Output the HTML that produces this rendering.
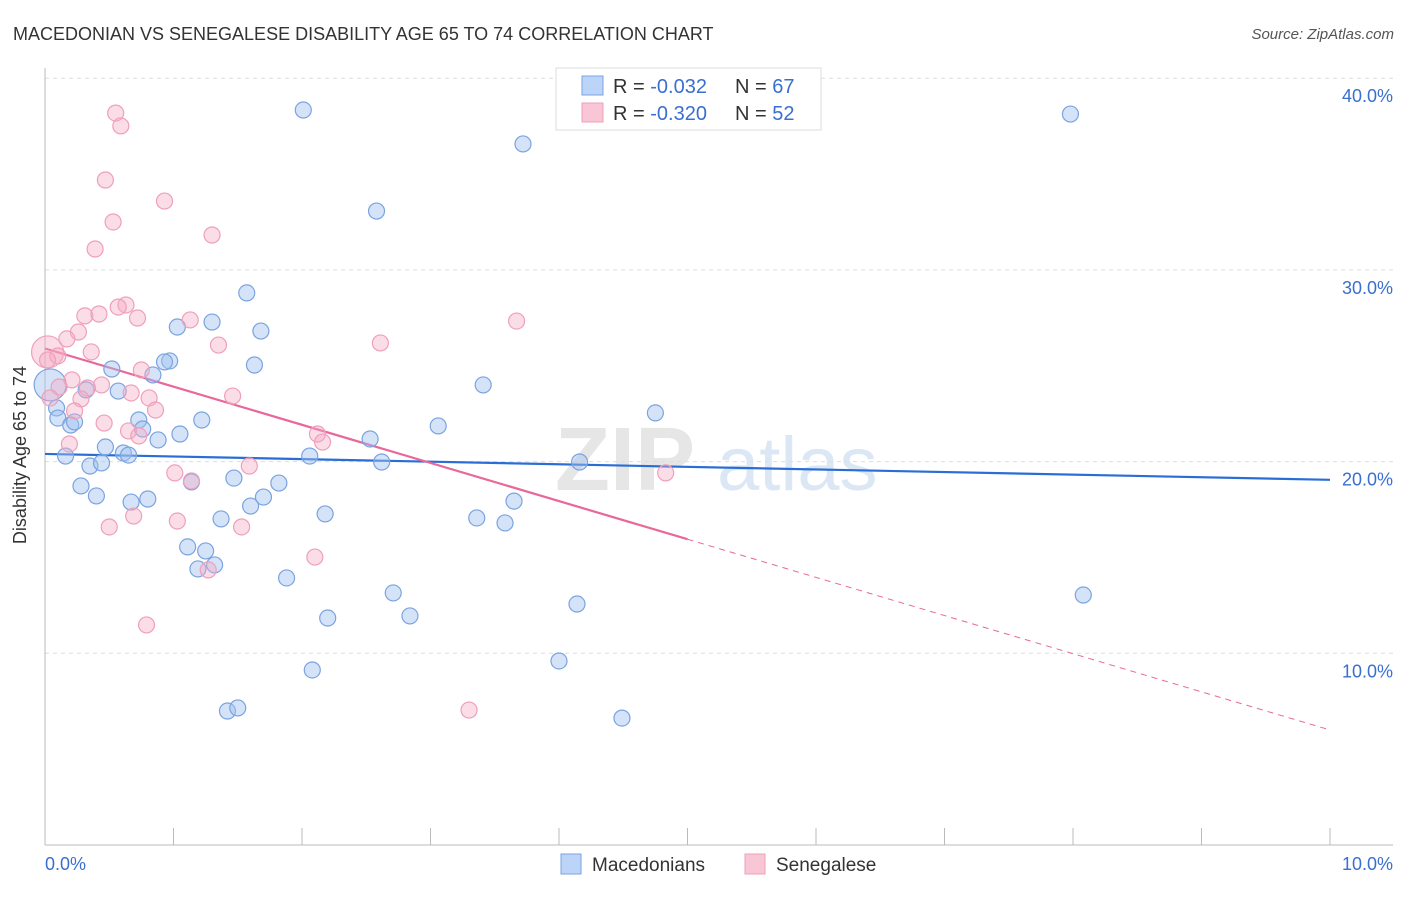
<!DOCTYPE html>
<html><head><meta charset="utf-8"><style>
body{margin:0;background:#fff;font-family:"Liberation Sans",sans-serif}
svg text{font-family:"Liberation Sans",sans-serif}
</style></head><body>
<svg id="c" width="1406" height="892" xmlns="http://www.w3.org/2000/svg">
<text x="13" y="40" font-size="18" fill="#333">MACEDONIAN VS SENEGALESE DISABILITY AGE 65 TO 74 CORRELATION CHART</text>
<text x="1394" y="39" font-size="15" fill="#555" font-style="italic" text-anchor="end">Source: ZipAtlas.com</text>
<g><text x="555" y="490" font-size="90" fill="#e6e6e6" font-family="Liberation Serif" font-weight="bold">ZIP</text><text x="717" y="490" font-size="76" fill="#dce7f5">atlas</text></g>
<g id="grid"></g>
<g id="axes"></g>
<g id="lines"></g>
<g id="pts"></g>
<text x="26" y="455" font-size="18" fill="#333" text-anchor="middle" transform="rotate(-90 26 455)">Disability Age 65 to 74</text>
<text x="45" y="870" font-size="18" fill="#3a6fd0">0.0%</text>
<text x="1393" y="870" font-size="18" fill="#3a6fd0" text-anchor="end">10.0%</text>
<g>
<rect x="556" y="68" width="265" height="62" fill="#fff" stroke="#ddd"/>
<rect x="582" y="76" width="21" height="19" fill="#bcd4f7" stroke="#7aa3e0"/>
<rect x="582" y="103" width="21" height="19" fill="#f9c6d5" stroke="#ef9fbb"/>
<text x="613" y="93" font-size="20" fill="#333">R = <tspan fill="#3a6fd0">-0.032</tspan></text>
<text x="735" y="93" font-size="20" fill="#333">N = <tspan fill="#3a6fd0">67</tspan></text>
<text x="613" y="120" font-size="20" fill="#333">R = <tspan fill="#3a6fd0">-0.320</tspan></text>
<text x="735" y="120" font-size="20" fill="#333">N = <tspan fill="#3a6fd0">52</tspan></text>
</g>
<g>
<rect x="561" y="854" width="20" height="20" fill="#bcd4f7" stroke="#7aa3e0"/>
<text x="592" y="871" font-size="19" fill="#333">Macedonians</text>
<rect x="745" y="854" width="20" height="20" fill="#f9c6d5" stroke="#ef9fbb"/>
<text x="776" y="871" font-size="19" fill="#333">Senegalese</text>
</g>
</svg>
<script>
const yTicks=[10,20,30,40];
const yTickLabels=["10.0%","20.0%","30.0%","40.0%"];
const xTicks=[0,1,2,3,4,5,6,7,8,9,10];
const blueX=[2.01,3.72,7.98,2.58,1.57,1.03,1.30,1.68,0.97,0.93,1.63,0.52,0.84,3.41,0.57,0.32,0.09,0.10,0.20,0.23,1.22,0.73,0.76,1.05,0.88,3.06,4.75,2.53,0.47,0.61,0.65,0.16,2.06,2.62,4.16,0.35,0.44,1.47,1.14,1.82,0.28,0.40,1.70,0.67,0.80,1.60,3.65,2.18,1.37,3.36,3.58,1.11,1.25,1.19,1.32,1.88,2.71,4.14,8.08,2.20,2.84,4.00,2.08,1.42,1.50,4.49,0.04];
const blueY=[38.34,36.57,38.13,33.07,28.80,27.02,27.28,26.81,25.25,25.20,25.04,24.83,24.52,24.00,23.68,23.74,22.80,22.27,21.91,22.07,22.17,22.17,21.70,21.44,21.13,21.86,22.54,21.18,20.76,20.45,20.34,20.29,20.29,19.98,19.98,19.77,19.93,19.14,18.94,18.88,18.73,18.21,18.15,17.89,18.05,17.68,17.94,17.27,17.01,17.06,16.80,15.55,15.34,14.40,14.61,13.93,13.15,12.57,13.04,11.84,11.95,9.60,9.13,6.99,7.15,6.62,24.00];
const pinkX=[0.55,0.59,0.47,0.93,0.53,1.30,0.39,0.63,0.57,0.72,0.31,0.42,1.13,3.67,0.26,0.17,1.35,2.61,0.02,0.10,0.36,0.75,0.21,0.44,0.11,0.33,0.67,1.46,0.28,0.81,0.04,0.86,0.23,0.46,0.65,0.73,2.12,2.16,0.19,1.59,1.01,4.83,1.14,0.69,1.03,1.53,0.50,2.10,1.27,0.79,3.30,0.02];
const pinkY=[38.18,37.51,34.69,33.59,32.50,31.82,31.09,28.17,28.06,27.49,27.60,27.70,27.39,27.33,26.76,26.40,26.08,26.19,25.72,25.51,25.72,24.78,24.26,24.00,23.89,23.84,23.58,23.42,23.27,23.32,23.32,22.69,22.64,22.01,21.60,21.34,21.44,21.02,20.92,19.77,19.41,19.41,18.99,17.16,16.90,16.59,16.59,15.02,14.35,11.48,7.04,25.30];
const blueTrend=[20.4,19.05];
const pinkTrend=[25.9,6.0];
const pinkSolidEnd=5.0;
const X0=45,X1=1330,YB=845,PPY=19.17;
const sx=v=>X0+(X1-X0)*v/10, sy=v=>YB-v*PPY;
const NS="http://www.w3.org/2000/svg";
function mk(t,a,p){const e=document.createElementNS(NS,t);for(const k in a)e.setAttribute(k,a[k]);p.appendChild(e);return e;}
const grid=document.getElementById('grid'),axes=document.getElementById('axes'),lines=document.getElementById('lines'),pts=document.getElementById('pts');
yTicks.forEach((t,i)=>{
 const l=mk('line',{x1:X0,x2:1393,y1:sy(t),y2:sy(t),stroke:'#ddd','stroke-dasharray':'4,4'},grid);
 
 
 const tx=mk('text',{x:1393,y:sy(t)+24,'font-size':18,fill:'#3a6fd0','text-anchor':'end'},axes);
 tx.textContent=yTickLabels[i];
 
 
});
mk('line',{x1:X0,x2:1393,y1:YB,y2:YB,stroke:'#bbb'},axes);
mk('line',{x1:X0,x2:X0,y1:68,y2:YB,stroke:'#bbb'},axes);
xTicks.forEach(t=>{
 const l=mk('line',{x1:sx(t),x2:sx(t),y1:YB-17,y2:YB,stroke:'#bbb'},axes);
 
 
});
const pAt=x=>pinkTrend[0]+(pinkTrend[1]-pinkTrend[0])*x/10;
let bl=mk('line',{x1:sx(0),y1:sy(blueTrend[0]),x2:sx(10),y2:sy(blueTrend[1]),stroke:'#2a6dd6','stroke-width':2.2},lines);


let pl=mk('line',{x1:sx(0),y1:sy(pAt(0)),x2:sx(pinkSolidEnd),y2:sy(pAt(pinkSolidEnd)),stroke:'#e8689a','stroke-width':2.2},lines);


let pd=mk('line',{x1:sx(pinkSolidEnd),y1:sy(pAt(pinkSolidEnd)),x2:sx(10),y2:sy(pAt(10)),stroke:'#e8689a','stroke-width':1,'stroke-dasharray':'6,5'},lines);


function drawPts(xs,ys,fill,stroke,name,bigIdx){
 xs.forEach((x,i)=>{
  const c=mk('circle',{cx:sx(x),cy:sy(ys[i]),r:i===bigIdx?16:8,fill:fill,stroke:stroke,'stroke-width':1.2},pts);
  
  
 });
}
drawPts(blueX,blueY,'rgba(160,192,240,0.45)','#7aa3e0','macedonian-point',blueX.length-1);
drawPts(pinkX,pinkY,'rgba(245,170,195,0.4)','#ef9fbb','senegalese-point',18);
</script>
</body></html>
